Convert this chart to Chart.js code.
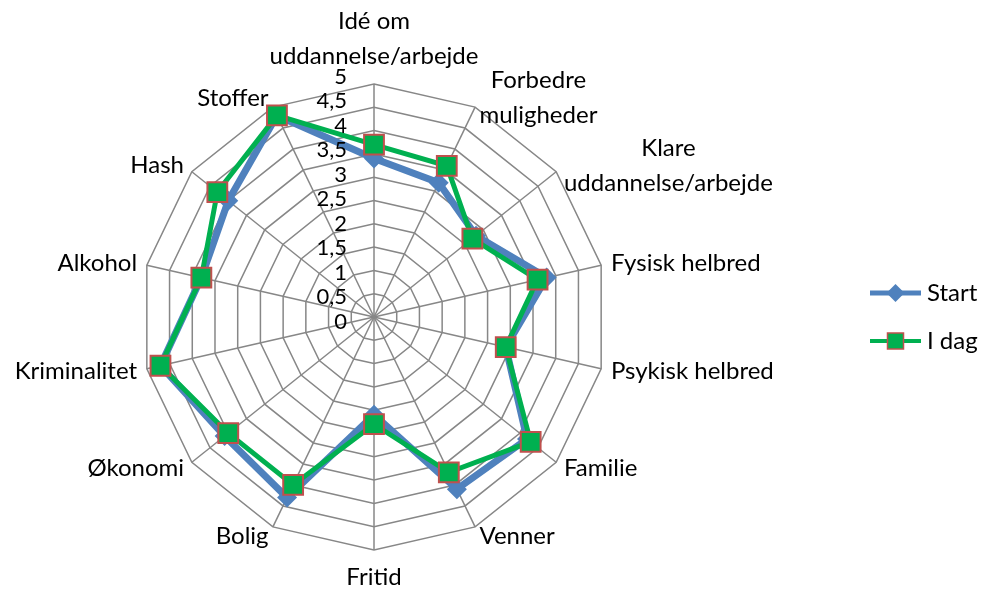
<!DOCTYPE html>
<html lang="da">
<head>
<meta charset="UTF-8">
<title>Radar - Start / I dag</title>
<style>
  html, body { margin: 0; padding: 0; background: #fff; }
  #wrap { width: 983px; height: 591px; }
</style>
</head>
<body>
<div id="wrap">
  <canvas id="myChart" width="983" height="591" role="img" aria-label="Radar chart Start og I dag"></canvas>
</div>

<script src="https://cdn.jsdelivr.net/npm/chart.js@4/dist/chart.umd.min.js"></script>
<script>
// categories (multi-line ones as arrays)
var categories = [
    ['Idé om', 'uddannelse/arbejde'],
    ['Forbedre', 'muligheder'],
    ['Klare', 'uddannelse/arbejde'],
    'Fysisk helbred',
    'Psykisk helbred',
    'Familie',
    'Venner',
    'Fritid',
    'Bolig',
    'Økonomi',
    'Kriminalitet',
    'Alkohol',
    'Hash',
    'Stoffer'
];
var startValues = [3.4, 3.2, 2.8, 3.8, 2.9, 4.2, 4.1, 2.1, 4.3, 4.1, 4.7, 3.8, 4.0, 4.8];
var idagValues  = [3.7, 3.6, 2.7, 3.6, 2.9, 4.3, 3.7, 2.3, 4.0, 4.0, 4.7, 3.8, 4.3, 4.8];
var tickValues  = [0, 0.5, 1, 1.5, 2, 2.5, 3, 3.5, 4, 4.5, 5];
var seriesNames = ['Start', 'I dag'];

var FONT = "Lato, 'Liberation Sans', sans-serif";
var BLUE = '#4F81BD';
var GREEN = '#00B050';
var RED = '#C0504D';
var GRID = '#878787';

// draws point labels, tick labels and the legend
var extras = {
    id: 'extras',
    afterDraw: function (chart) {
        var ctx = chart.ctx;
        var r = chart.scales.r;
        var R = r.drawingArea;
        var lineH = 35;

        ctx.save();
        ctx.fillStyle = '#000';
        ctx.font = '24px ' + FONT;
        ctx.textBaseline = 'middle';

        // category labels
        for (var i = 0; i < categories.length; i++) {
            var lines = [].concat(categories[i]);
            var pos = r.getPointPosition(i, R + 10);
            var dx = pos.x - r.xCenter;
            var maxW = 0;
            lines.forEach(function (l) { maxW = Math.max(maxW, ctx.measureText(l).width); });
            var h = lines.length * lineH;
            var cx, cy;
            if (Math.abs(dx) < 1) {
                cx = pos.x;
                cy = pos.y < r.yCenter ? pos.y - h / 2 : pos.y + h / 2;
            } else if (dx > 0) {
                cx = pos.x + maxW / 2;
                cy = pos.y;
            } else {
                cx = pos.x - maxW / 2;
                cy = pos.y;
            }
            ctx.textAlign = 'center';
            for (var j = 0; j < lines.length; j++) {
                ctx.fillText(lines[j], cx, cy - h / 2 + lineH * (j + 0.5));
            }
        }

        // tick labels, right aligned next to the vertical spoke
        ctx.font = '22px ' + FONT;
        ctx.textAlign = 'right';
        tickValues.forEach(function (v) {
            var y = r.yCenter + 4.7 - r.getDistanceFromCenterForValue(v) * 1.051;
            ctx.fillText(String(v).replace('.', ','), r.xCenter - 27, y);
        });

        // legend
        var lx = 870, lw = 51, tx = 927;
        var ys = [293, 341];
        // Start
        ctx.strokeStyle = BLUE;
        ctx.lineWidth = 5;
        ctx.beginPath(); ctx.moveTo(lx, ys[0]); ctx.lineTo(lx + lw, ys[0]); ctx.stroke();
        ctx.fillStyle = BLUE;
        ctx.beginPath();
        ctx.moveTo(lx + lw / 2, ys[0] - 9);
        ctx.lineTo(lx + lw / 2 + 9, ys[0]);
        ctx.lineTo(lx + lw / 2, ys[0] + 9);
        ctx.lineTo(lx + lw / 2 - 9, ys[0]);
        ctx.closePath(); ctx.fill();
        // I dag
        ctx.strokeStyle = GREEN;
        ctx.lineWidth = 4;
        ctx.beginPath(); ctx.moveTo(lx, ys[1]); ctx.lineTo(lx + lw, ys[1]); ctx.stroke();
        ctx.fillStyle = GREEN;
        ctx.fillRect(lx + lw / 2 - 8, ys[1] - 8, 16, 16);
        ctx.strokeStyle = RED;
        ctx.lineWidth = 1.5;
        ctx.strokeRect(lx + lw / 2 - 8, ys[1] - 8, 16, 16);

        ctx.fillStyle = '#000';
        ctx.font = '24px ' + FONT;
        ctx.textAlign = 'left';
        ctx.fillText(seriesNames[0], tx, ys[0]);
        ctx.fillText(seriesNames[1], tx, ys[1]);
        ctx.restore();
    }
};

var ctx = document.getElementById('myChart').getContext('2d');
var myChart = new Chart(ctx, {
    type: 'radar',
    data: {
        labels: categories,
        datasets: [
            {
                label: seriesNames[0],
                data: startValues,
                borderColor: BLUE,
                backgroundColor: BLUE,
                borderWidth: 7,
                fill: false,
                tension: 0,
                pointStyle: 'rectRot',
                pointRadius: 10,
                pointBorderWidth: 0,
                pointBackgroundColor: BLUE,
                pointBorderColor: BLUE,
                order: 1
            },
            {
                label: seriesNames[1],
                data: idagValues,
                borderColor: GREEN,
                backgroundColor: GREEN,
                borderWidth: 5,
                fill: false,
                tension: 0,
                pointStyle: 'rect',
                pointRadius: 14,
                pointBorderWidth: 2,
                pointBackgroundColor: GREEN,
                pointBorderColor: RED,
                order: 0
            }
        ]
    },
    options: {
        responsive: false,
        animation: false,
        layout: { padding: { left: 141, right: 376, top: 84, bottom: 41 } },
        plugins: {
            legend: { display: false },
            tooltip: { enabled: false }
        },
        scales: {
            r: {
                min: 0,
                max: 5,
                ticks: { display: false, stepSize: 0.5 },
                grid: { color: GRID, lineWidth: 1.5 },
                angleLines: { color: GRID, lineWidth: 1.5 },
                pointLabels: { display: false }
            }
        }
    },
    plugins: [extras]
});
</script>
</body>
</html>
